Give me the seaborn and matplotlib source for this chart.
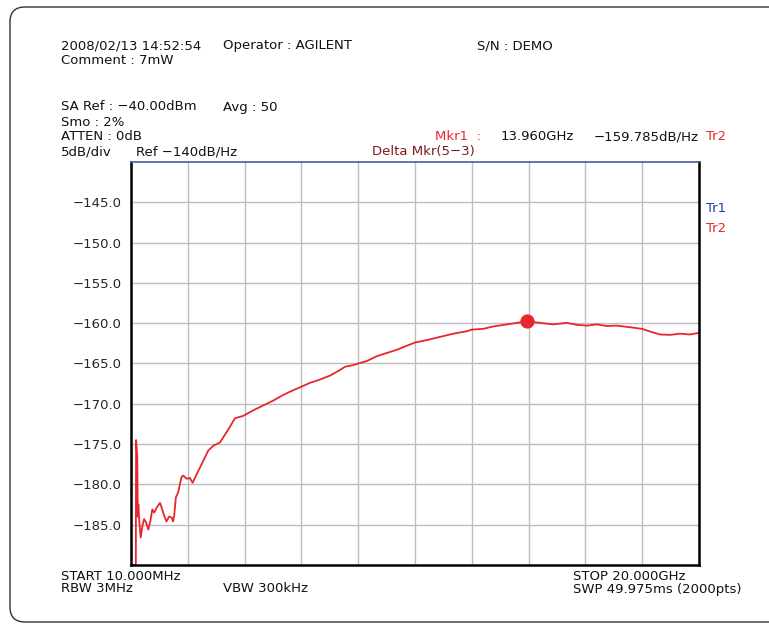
import numpy as np
import pandas as pd
import seaborn as sns
import matplotlib.pyplot as plt
from matplotlib.patches import FancyBboxPatch

# trace (GHz, dB/Hz)
freq_ghz = [0.0, 0.17, 0.18, 0.22, 0.24, 0.26, 0.29, 0.34, 0.40, 0.46, 0.53, 0.61,
            0.68, 0.75, 0.82, 0.90, 1.02, 1.10, 1.17, 1.25, 1.34, 1.43, 1.48, 1.52,
            1.58, 1.66, 1.72, 1.78, 1.84, 1.96, 2.07, 2.17, 2.29, 2.43, 2.61, 2.72,
            2.90, 3.13, 3.37, 3.66, 3.95, 4.31, 4.66, 5.01, 5.36, 5.72, 5.99, 6.30,
            6.65, 7.01, 7.36, 7.54, 7.83, 8.00, 8.30, 8.65, 9.00, 9.36, 9.71, 10.00,
            10.41, 10.88, 11.35, 11.82, 12.00, 12.40, 12.76, 13.23, 13.70, 13.96,
            14.40, 14.87, 15.34, 15.69, 16.05, 16.40, 16.75, 17.10, 17.57, 18.00,
            18.33, 18.63, 18.98, 19.33, 19.68, 20.00]
level_db = [-190.0, -190.0, -174.5, -176.5, -184.0, -182.5, -184.5, -186.6, -185.2,
            -184.3, -184.7, -185.6, -184.6, -183.1, -183.5, -182.9, -182.3, -183.1,
            -183.9, -184.6, -184.0, -184.1, -184.6, -183.9, -181.6, -181.0, -180.0,
            -179.1, -178.9, -179.3, -179.2, -179.8, -178.9, -177.9, -176.6, -175.8,
            -175.2, -174.8, -173.5, -171.8, -171.5, -170.8, -170.2, -169.6, -168.9,
            -168.3, -167.9, -167.4, -167.0, -166.5, -165.8, -165.4, -165.2, -165.0,
            -164.7, -164.1, -163.7, -163.3, -162.8, -162.4, -162.1, -161.7, -161.3,
            -161.0, -160.8, -160.7, -160.4, -160.15, -159.9, -159.785, -159.95,
            -160.15, -159.95, -160.2, -160.3, -160.15, -160.35, -160.3, -160.5,
            -160.7, -161.1, -161.4, -161.45, -161.3, -161.4, -161.2]

mkr_freq = [13.96]
mkr_level = [-159.785]

y_ticks = [-145, -150, -155, -160, -165, -170, -175, -180, -185]

RED = '#e8262c'
W, H = 769, 628

sns.set_style('white')
plt.rcParams['font.family'] = ['DejaVu Sans']

fig = plt.figure(figsize=(W / 100, H / 100), dpi=100)
ax = fig.add_axes([131 / W, 1 - 565 / H, (699 - 131) / W, (565 - 162) / H])

df = pd.DataFrame({'f': freq_ghz, 'lvl': level_db})
sns.lineplot(data=df, x='f', y='lvl', ax=ax, color=RED, lw=1.3,
             sort=False, estimator=None)
sns.scatterplot(x=mkr_freq, y=mkr_level, ax=ax, color=RED, s=90,
                edgecolor=RED, zorder=5)

ax.set_xlim(0, 20)
ax.set_ylim(-190, -140)
ax.set_xticks(np.arange(0, 21, 2))
ax.set_yticks(y_ticks)
ax.set_yticklabels([f'{v:.1f}'.replace('-', '\u2212') for v in y_ticks], fontsize=9.5)
ax.tick_params(axis='x', labelbottom=False, length=0)
ax.tick_params(axis='y', length=0, pad=7)
ax.grid(True, color='#bdbdbd', lw=1)
ax.set_xlabel('')
ax.set_ylabel('')
for s in ['left', 'right', 'bottom']:
    ax.spines[s].set_color('black')
    ax.spines[s].set_linewidth(1.8)
ax.spines['top'].set_color('#4a5aa0')
ax.spines['top'].set_linewidth(1.2)

# outer rounded frame
box = FancyBboxPatch((0.10, 0.06), 7.9, 6.15, boxstyle='round,pad=0,rounding_size=0.15',
                     transform=fig.dpi_scale_trans, fill=False, ec='#333333', lw=1.0)
fig.patches.append(box)


def txt(x, y, s, color='#111111'):
    fig.text(x / W, 1 - y / H, s, ha='left', va='center', fontsize=9.5, color=color)


txt(61, 46, '2008/02/13 14:52:54')
txt(223, 46, 'Operator : AGILENT')
txt(477, 46, 'S/N : DEMO')
txt(61, 61, 'Comment : 7mW')
txt(61, 107, 'SA Ref : \u221240.00dBm')
txt(223, 107, 'Avg : 50')
txt(61, 122, 'Smo : 2%')
txt(61, 137, 'ATTEN : 0dB')
txt(61, 152, '5dB/div')
txt(136, 152, 'Ref \u2212140dB/Hz')
txt(435, 137, 'Mkr1  :', RED)
txt(501, 137, '13.960GHz')
txt(594, 137, '\u2212159.785dB/Hz')
txt(706, 137, 'Tr2', RED)
txt(372, 152, 'Delta Mkr(5\u22123)', '#7a1c1c')
txt(706, 209, 'Tr1', '#2b3a9c')
txt(706, 229, 'Tr2', RED)
txt(61, 576, 'START 10.000MHz')
txt(61, 589, 'RBW 3MHz')
txt(223, 589, 'VBW 300kHz')
txt(573, 576, 'STOP 20.000GHz')
txt(573, 589, 'SWP 49.975ms (2000pts)')

fig.savefig('out.png', dpi=100, facecolor='white')
